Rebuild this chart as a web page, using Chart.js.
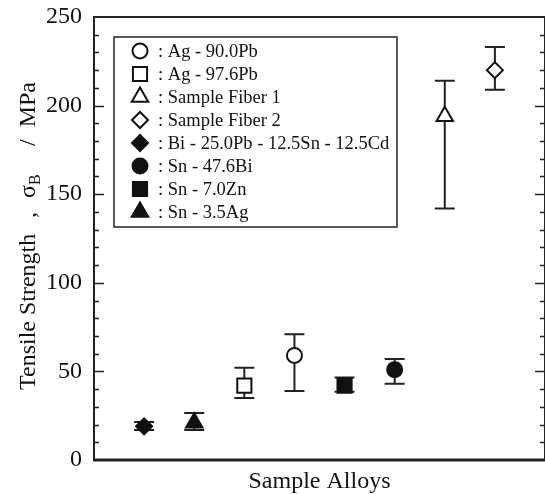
<!DOCTYPE html>
<html>
<head>
<meta charset="utf-8">
<script src="https://cdn.jsdelivr.net/npm/chart.js@4.4.1/dist/chart.umd.min.js"></script>
<style>
  html,body{margin:0;padding:0;background:#fff;overflow:hidden;}
  #wrap{width:545px;height:494px;position:relative;}
  canvas{display:block;}
</style>
</head>
<body>
<div id="wrap"><canvas id="c"></canvas></div>
<script>
// data, in legend order
const alloys = ['Ag - 90.0Pb','Ag - 97.6Pb','Sample Fiber 1','Sample Fiber 2','Bi - 25.0Pb - 12.5Sn - 12.5Cd','Sn - 47.6Bi','Sn - 7.0Zn','Sn - 3.5Ag'];
const xPos = [4, 3, 7, 8, 1, 6, 5, 2];
const strength = [59, 42, 194, 220, 19, 51, 42, 21];
const errLow = [39, 35, 142, 209, 17, 43, 38.5, 17];
const errHigh = [71, 52, 214, 233, 21.5, 57, 46.5, 26.5];
const yTicks = [0, 50, 100, 150, 200, 250];

const shapes = ['circle','rect','triangle','rectRot','rectRot','circle','rect','triangle'];
const filled = [false,false,false,false,true,true,true,true];
const radii = {circle:7.5, rect:10, triangle:9.5, rectRot:8};

const SERIF = '"Liberation Serif","DejaVu Serif",serif';

const datasets = alloys.map((name,i)=>({
  label: name,
  data: [{x: xPos[i], y: strength[i]}],
  pointStyle: shapes[i],
  radius: radii[shapes[i]],
  hoverRadius: radii[shapes[i]],
  borderWidth: 2,
  borderColor: '#111',
  backgroundColor: filled[i] ? '#111' : '#fff',
  errLow: errLow[i],
  errHigh: errHigh[i]
}));

// error bars, drawn under the markers
const errorBars = {
  id:'errorBars',
  beforeDatasetsDraw(chart){
    const {ctx, scales:{x, y}} = chart;
    ctx.save();
    ctx.strokeStyle = '#222';
    ctx.lineWidth = 2;
    chart.data.datasets.forEach(ds=>{
      const px = x.getPixelForValue(ds.data[0].x);
      const lo = y.getPixelForValue(ds.errLow);
      const hi = y.getPixelForValue(ds.errHigh);
      ctx.beginPath();
      ctx.moveTo(px, lo); ctx.lineTo(px, hi);
      ctx.moveTo(px-10, lo); ctx.lineTo(px+10, lo);
      ctx.moveTo(px-10, hi); ctx.lineTo(px+10, hi);
      ctx.stroke();
    });
    ctx.restore();
  }
};

// frame + inner ticks on left and right axes
const frame = {
  id:'frame',
  afterDraw(chart){
    const {ctx, chartArea:a, scales:{y}} = chart;
    ctx.save();
    ctx.strokeStyle = '#222';
    ctx.lineWidth = 2;
    ctx.beginPath();
    ctx.moveTo(a.left, a.top); ctx.lineTo(a.right, a.top);
    ctx.moveTo(a.left, a.top-1); ctx.lineTo(a.left, a.bottom);
    ctx.moveTo(a.right, a.top-1); ctx.lineTo(a.right, a.bottom);
    ctx.stroke();
    ctx.lineWidth = 3;
    ctx.beginPath();
    ctx.moveTo(a.left-1, a.bottom); ctx.lineTo(a.right, a.bottom);
    ctx.stroke();
    ctx.lineWidth = 1.5;
    ctx.beginPath();
    for(let v=10; v<250; v+=10){
      const py = Math.round(y.getPixelForValue(v))+0.5;
      const len = v%50===0 ? 10 : 5;
      ctx.moveTo(a.left, py); ctx.lineTo(a.left+len, py);
      ctx.moveTo(a.right, py); ctx.lineTo(a.right-len, py);
    }
    ctx.stroke();
    ctx.restore();
  }
};

// boxed legend inside the plot
const boxLegend = {
  id:'boxLegend',
  afterDraw(chart){
    const ctx = chart.ctx;
    ctx.save();
    ctx.strokeStyle = '#222';
    ctx.lineWidth = 1.5;
    ctx.strokeRect(114, 37, 283, 190);
    ctx.font = '18.5px ' + SERIF;
    ctx.fillStyle = '#111';
    ctx.textBaseline = 'middle';
    chart.data.datasets.forEach((ds,i)=>{
      const cy = 51 + i*23;
      ctx.fillStyle = ds.backgroundColor;
      ctx.strokeStyle = ds.borderColor;
      ctx.lineWidth = 2;
      Chart.helpers.drawPoint(ctx, {pointStyle: ds.pointStyle, radius: ds.radius, borderWidth: 2}, 140, cy);
      ctx.fillStyle = '#111';
      ctx.fillText(': ' + ds.label, 158, cy+1);
    });
    ctx.restore();
  }
};

// rotated y title with subscript
const yTitle = {
  id:'yTitle',
  afterDraw(chart){
    const ctx = chart.ctx;
    ctx.save();
    ctx.translate(35, 390);
    ctx.rotate(-Math.PI/2);
    ctx.fillStyle = '#111';
    ctx.textBaseline = 'alphabetic';
    ctx.textAlign = 'left';
    ctx.font = '24px ' + SERIF;
    ctx.fillText('Tensile Strength', 0, 0);
    ctx.fillText(',', 172, 0);
    ctx.fillText('σ', 192, 0);
    const sw = ctx.measureText('σ').width;
    ctx.font = '16px ' + SERIF;
    ctx.fillText('B', 192 + sw, 5);
    ctx.font = '24px ' + SERIF;
    ctx.textAlign = 'right';
    ctx.fillText('/  MPa', 308, 0);
    ctx.restore();
  }
};

new Chart(document.getElementById('c'), {
  type:'scatter',
  data:{datasets},
  options:{
    responsive:true,
    maintainAspectRatio:false,
    animation:false,
    events:[],
    layout:{autoPadding:false, padding:{top:17, right:0, left:0, bottom:0}},
    plugins:{legend:{display:false}, tooltip:{enabled:false}},
    scales:{
      x:{
        type:'linear', min:0, max:9,
        grid:{display:false},
        border:{display:false},
        ticks:{display:false},
        title:{display:true, text:'Sample Alloys', color:'#111', padding:0, font:{family:SERIF, size:24, lineHeight:1}},
        afterFit(s){ s.height = 34; s.paddingLeft = 0; s.paddingRight = 0; }
      },
      y:{
        min:0, max:250,
        afterBuildTicks(s){ s.ticks = yTicks.map(v=>({value:v})); },
        grid:{display:false, drawTicks:false},
        border:{display:false},
        ticks:{color:'#111', padding:12, font:{family:SERIF, size:24}},
        afterFit(s){ s.width = 94; s.paddingTop = 0; s.paddingBottom = 0; s.paddingLeft = 0; s.paddingRight = 0; }
      }
    }
  },
  plugins:[errorBars, frame, boxLegend, yTitle]
});
</script>
</body>
</html>
